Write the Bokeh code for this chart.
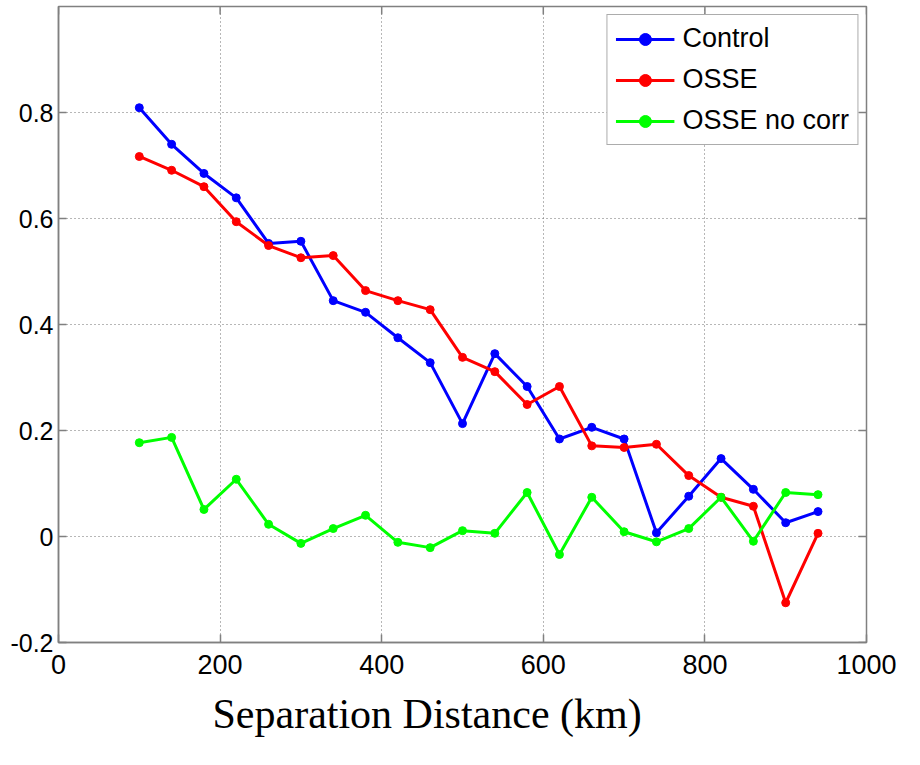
import math

from bokeh.plotting import figure
from bokeh.models import FixedTicker, Legend, LegendItem, Label, Title, Range1d
from bokeh.embed import file_html
from bokeh.resources import INLINE

# Correlation versus separation distance
separation_km = [100, 140, 180, 220, 260, 300, 340, 380, 420, 460, 500,
                 540, 580, 620, 660, 700, 740, 780, 820, 860, 900, 940]
control = [0.809, 0.740, 0.685, 0.639, 0.553, 0.557, 0.445, 0.423, 0.375, 0.328, 0.213,
           0.345, 0.283, 0.184, 0.206, 0.184, 0.007, 0.076, 0.147, 0.089, 0.026, 0.047]
osse = [0.717, 0.691, 0.660, 0.594, 0.549, 0.526, 0.530, 0.464, 0.445, 0.428, 0.338,
        0.311, 0.249, 0.283, 0.171, 0.168, 0.174, 0.115, 0.074, 0.057, -0.125, 0.006]
osse_no_corr = [0.177, 0.187, 0.051, 0.108, 0.023, -0.013, 0.015, 0.040, -0.011, -0.021, 0.011,
                0.006, 0.083, -0.034, 0.074, 0.009, -0.010, 0.015, 0.074, -0.009, 0.083, 0.079]

series_names = ["Control", "OSSE", "OSSE no corr"]
series_colors = ["#0000ff", "#ff0000", "#00ff00"]

x_ticks = [0, 200, 400, 600, 800, 1000]
x_tick_labels = ["0", "200", "400", "600", "800", "1000"]
y_ticks = [-0.2, 0, 0.2, 0.4, 0.6, 0.8]
y_tick_labels = ["-0.2", "0", "0.2", "0.4", "0.6", "0.8"]

X_MIN, X_MAX = 0, 1000
Y_MIN, Y_MAX = -0.2, 1.0

AXIS_GREY = "#808080"

p = figure(width=920, height=765, output_backend="svg", toolbar_location=None,
           x_range=Range1d(X_MIN, X_MAX), y_range=Range1d(Y_MIN, Y_MAX),
           min_border_left=58, min_border_right=54, min_border_top=6, min_border_bottom=123)
p.background_fill_color = "white"
p.border_fill_color = "white"
p.outline_line_color = AXIS_GREY
p.outline_line_width = 1.5

p.xaxis.ticker = FixedTicker(ticks=x_ticks)
p.yaxis.ticker = FixedTicker(ticks=y_ticks)
p.xaxis.major_label_overrides = dict(zip(x_ticks, x_tick_labels))
p.yaxis.major_label_overrides = dict(zip(y_ticks, y_tick_labels))

for ax in p.axis:
    ax.axis_line_color = AXIS_GREY
    ax.axis_line_width = 1.5
    ax.major_tick_line_color = AXIS_GREY
    ax.major_tick_line_width = 1.5
    ax.major_tick_in = 8
    ax.major_tick_out = 0
    ax.minor_tick_in = 0
    ax.minor_tick_out = 0
    ax.major_label_text_font = "Liberation Sans"
    ax.major_label_text_color = "black"

p.xaxis.major_label_text_font_size = "27px"
p.xaxis.major_label_standoff = 12
p.yaxis.major_label_text_font_size = "25px"
p.yaxis.major_label_standoff = 5

for g in (p.xgrid, p.ygrid):
    g.grid_line_color = "#6e6e6e"
    g.grid_line_dash = "1 3"
    g.grid_line_width = 1

# inward tick marks on the top and right edges of the box (outer half is clipped by the frame)
p.scatter(x_ticks, [Y_MAX] * len(x_ticks), marker="dash", angle=math.pi / 2, size=16,
          line_color=AXIS_GREY, line_width=1.5)
p.scatter([X_MAX] * len(y_ticks), y_ticks, marker="dash", size=16,
          line_color=AXIS_GREY, line_width=1.5)

items = []
for name, color, vals in zip(series_names, series_colors, [control, osse, osse_no_corr]):
    ln = p.line(separation_km, vals, line_color=color, line_width=3)
    mk = p.scatter(separation_km, vals, size=8, fill_color=color, line_color=color)
    items.append(LegendItem(label=name, renderers=[ln, mk]))

legend = Legend(items=items, location="top_right", margin=8, padding=8, spacing=10,
                glyph_width=59, glyph_height=30, label_height=30, label_standoff=8,
                label_text_font="Liberation Sans", label_text_font_size="27px",
                label_text_color="black", border_line_color="#5a5a5a",
                border_line_width=1.5, background_fill_color="white",
                background_fill_alpha=1.0)
p.add_layout(legend)

xlabel = Title(text="Separation Distance (km)", align="left", offset=154,
               text_font="Liberation Serif", text_font_size="42px",
               text_font_style="normal", text_color="black", standoff=24)
p.add_layout(xlabel, "below")

p.add_layout(Label(x=-68, y=-0.2575, text="0", text_align="center", text_baseline="middle",
                   text_font="Liberation Sans", text_font_size="27px", text_color="black"))

open("out.html", "w").write(file_html(p, INLINE))
